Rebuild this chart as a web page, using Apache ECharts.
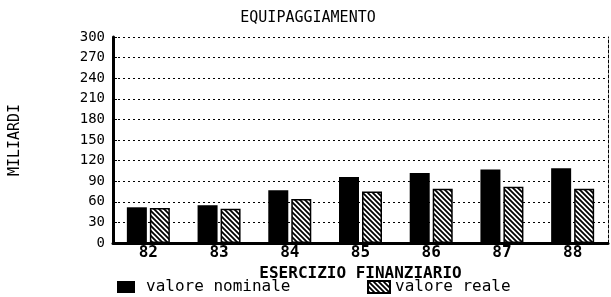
<!DOCTYPE html>
<html>
<head>
<meta charset="utf-8">
<script src="https://cdn.jsdelivr.net/npm/echarts@6/dist/echarts.min.js"></script>
<style>
  html, body { margin: 0; padding: 0; background: #fff; }
  #chart { width: 611px; height: 297px; }
</style>
</head>
<body>
<div id="chart"></div>
<script>
// dati
var anni = ['82', '83', '84', '85', '86', '87', '88'];
var valoreNominale = [52, 55, 77, 96, 102, 107, 109];
var valoreReale = [51, 50, 64, 75, 79, 82, 79];
var yMin = 0, yMax = 300, yStep = 30;

var font = 'DejaVu Sans Mono';

// tratteggio diagonale per il valore reale
function hatch() {
    var c = document.createElement('canvas');
    c.width = 5; c.height = 5;
    var ctx = c.getContext('2d');
    ctx.fillStyle = '#fff';
    ctx.fillRect(0, 0, 5, 5);
    ctx.strokeStyle = '#000';
    ctx.lineWidth = 1.8;
    ctx.beginPath();
    ctx.moveTo(-1, -1); ctx.lineTo(6, 6);
    ctx.moveTo(4, -1); ctx.lineTo(6, 1);
    ctx.moveTo(-1, 4); ctx.lineTo(1, 6);
    ctx.stroke();
    return { image: c, repeat: 'repeat' };
}

var chart = echarts.init(document.getElementById('chart'));
var option = {
    backgroundColor: '#fff',
    animation: false,
    title: {
        text: 'EQUIPAGGIAMENTO',
        left: 303,
        textAlign: 'center',
        top: 6,
        textStyle: { fontFamily: font, fontSize: 15, fontWeight: 'normal', color: '#000' }
    },
    legend: [{
        data: ['valore nominale'],
        left: 112, top: 274,
        itemWidth: 18, itemHeight: 12,
        icon: 'rect',
        textStyle: { fontFamily: font, fontSize: 16, color: '#000', padding: [0, 0, 0, 6] }
    }, {
        data: ['valore reale'],
        left: 362, top: 274,
        itemWidth: 22, itemHeight: 12,
        icon: 'rect',
        textStyle: { fontFamily: font, fontSize: 16, color: '#000', padding: [0, 0, 0, 0] }
    }],
    grid: { left: 111, right: 3, top: 37, bottom: 54 },
    xAxis: [{
        type: 'category',
        data: anni,
        name: 'ESERCIZIO FINANZIARIO',
        nameLocation: 'middle',
        nameGap: 5,
        nameTextStyle: { fontFamily: font, fontSize: 16, fontWeight: 'bold', color: '#000' },
        axisLine: { lineStyle: { color: '#000', width: 2 } },
        axisTick: { show: false },
        axisLabel: { fontFamily: font, fontSize: 16, fontWeight: 'bold', color: '#000', margin: 2 }
    }, {
        type: 'category',
        data: anni,
        position: 'top',
        axisLine: { lineStyle: { color: '#000', width: 3 } },
        axisTick: { show: false },
        axisLabel: { show: false }
    }],
    yAxis: [{
        type: 'value',
        min: yMin, max: yMax, interval: yStep,
        name: 'MILIARDI',
        nameLocation: 'middle',
        nameGap: 90,
        nameTextStyle: { fontFamily: font, fontSize: 15, color: '#000' },
        axisLine: { show: true, lineStyle: { color: '#000', width: 3 } },
        axisTick: { show: true, inside: true, length: 4, lineStyle: { color: '#000' } },
        axisLabel: { fontFamily: font, fontSize: 14, color: '#000', margin: 8 },
        splitLine: { show: true, lineStyle: { color: '#000', type: [2, 3], width: 1 } }
    }, {
        type: 'value',
        min: yMin, max: yMax, interval: yStep,
        position: 'right',
        axisLine: { show: true, lineStyle: { color: '#000', width: 1, type: [3, 2] } },
        axisTick: { show: false },
        axisLabel: { show: false },
        splitLine: { show: false }
    }],
    series: [{
        name: 'valore nominale',
        type: 'bar',
        data: valoreNominale,
        barWidth: 20,
        barGap: '15%',
        itemStyle: { color: '#000' }
    }, {
        name: 'valore reale',
        type: 'bar',
        data: valoreReale,
        barWidth: 20,
        itemStyle: { color: hatch(), borderColor: '#000', borderWidth: 1.5 }
    }]
};
chart.setOption(option);
</script>
</body>
</html>
